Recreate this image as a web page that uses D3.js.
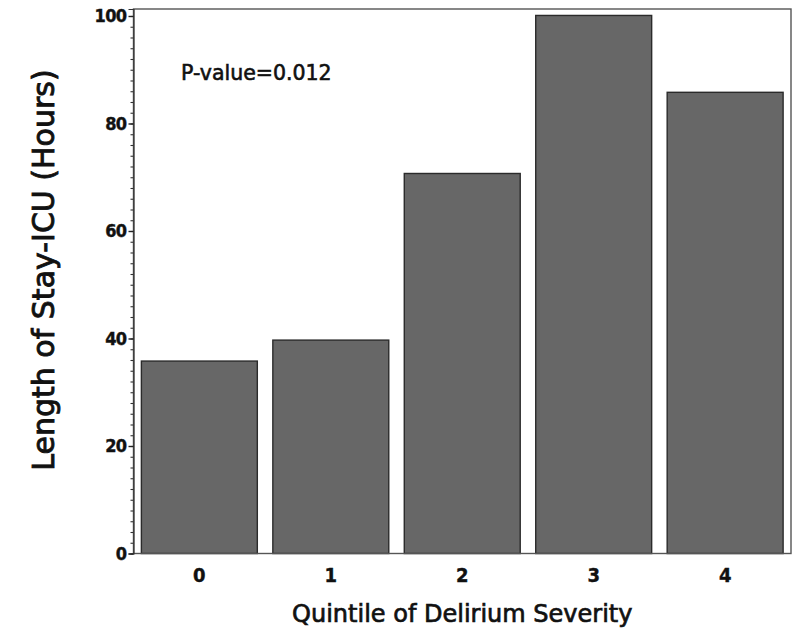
<!DOCTYPE html>
<html>
<head>
<meta charset="utf-8">
<script src="https://cdn.jsdelivr.net/npm/d3@7"></script>
<style>
  html, body { margin: 0; padding: 0; background: #fff; }
  svg { display: block; }
</style>
</head>
<body>
<svg id="chart" width="800" height="637"></svg>
<script>
// ---- data ----
const categories = ["0", "1", "2", "3", "4"];
const values = [35.8, 39.7, 70.7, 100.1, 85.8];
const yTickValues = [0, 20, 40, 60, 80, 100];
const yMinorTickValues = d3.range(0, 101, 2);
const yLabel = "Length of Stay-ICU (Hours)";
const xLabel = "Quintile of Delirium Severity";
const annotation = "P-value=0.012";

// ---- layout ----
const plot = { left: 133.5, right: 791, top: 9, bottom: 553.5 };

const svg = d3.select("#chart");

const x = d3.scaleBand()
  .domain(categories)
  .range([plot.left, plot.right])
  .paddingInner(0.118)
  .paddingOuter(0.06);

const y = d3.scaleLinear()
  .domain([0, 101.3])
  .range([plot.bottom, plot.top]);

// bars
svg.append("g")
  .selectAll("rect")
  .data(values)
  .join("rect")
  .attr("x", (d, i) => x(categories[i]))
  .attr("y", d => y(d))
  .attr("width", x.bandwidth())
  .attr("height", d => y(0) - y(d))
  .attr("fill", "#676767")
  .attr("stroke", "#2b2b2b")
  .attr("stroke-width", 1.4);

// frame
svg.append("rect")
  .attr("x", plot.left)
  .attr("y", plot.top)
  .attr("width", plot.right - plot.left)
  .attr("height", plot.bottom - plot.top)
  .attr("fill", "none")
  .attr("stroke", "#555")
  .attr("stroke-width", 1.4);

const tickFont = "'DejaVu Sans Condensed', 'DejaVu Sans', sans-serif";

// y minor ticks
const yMinor = svg.append("g")
  .attr("transform", `translate(${plot.left},0)`)
  .call(d3.axisLeft(y).tickValues(yMinorTickValues).tickSize(3).tickFormat(""));
yMinor.select(".domain").remove();
yMinor.selectAll("line").attr("stroke", "#333").attr("stroke-width", 1.1);

// y major axis
const yAxis = svg.append("g")
  .attr("transform", `translate(${plot.left},0)`)
  .call(d3.axisLeft(y).tickValues(yTickValues).tickSize(5).tickPadding(2));
yAxis.select(".domain").attr("stroke", "#333").attr("stroke-width", 1.2);
yAxis.selectAll("line").attr("stroke", "#222").attr("stroke-width", 1.4);
yAxis.selectAll("text")
  .attr("font-family", tickFont)
  .attr("font-stretch", "condensed")
  .attr("font-weight", "bold")
  .attr("font-size", 18)
  .attr("letter-spacing", "-0.6")
  .attr("fill", "#111")
  .attr("stroke", "#111")
  .attr("stroke-width", 0.4);

// x axis (labels only)
const xAxis = svg.append("g")
  .attr("transform", `translate(0,${plot.bottom})`)
  .call(d3.axisBottom(x).tickSize(0).tickPadding(14));
xAxis.select(".domain").remove();
xAxis.selectAll("text")
  .attr("font-family", tickFont)
  .attr("font-stretch", "condensed")
  .attr("font-weight", "bold")
  .attr("font-size", 20)
  .attr("fill", "#111")
  .attr("stroke", "#111")
  .attr("stroke-width", 0.4);

// axis labels
svg.append("text")
  .attr("x", (plot.left + plot.right) / 2)
  .attr("y", 622)
  .attr("text-anchor", "middle")
  .attr("font-family", "'DejaVu Sans', sans-serif")
  .attr("font-size", 24)
  .attr("fill", "#111")
  .attr("stroke", "#111")
  .attr("stroke-width", 0.7)
  .text(xLabel);

svg.append("text")
  .attr("transform", `translate(54,${270}) rotate(-90)`)
  .attr("text-anchor", "middle")
  .attr("font-family", "'DejaVu Sans', sans-serif")
  .attr("font-size", 30)
  .attr("fill", "#111")
  .attr("stroke", "#111")
  .attr("stroke-width", 0.9)
  .text(yLabel);

// annotation
svg.append("text")
  .attr("x", 181)
  .attr("y", 80)
  .attr("font-family", "'DejaVu Sans', sans-serif")
  .attr("font-size", 20.5)
  .attr("fill", "#111")
  .attr("stroke", "#111")
  .attr("stroke-width", 0.6)
  .text(annotation);
</script>
</body>
</html>
